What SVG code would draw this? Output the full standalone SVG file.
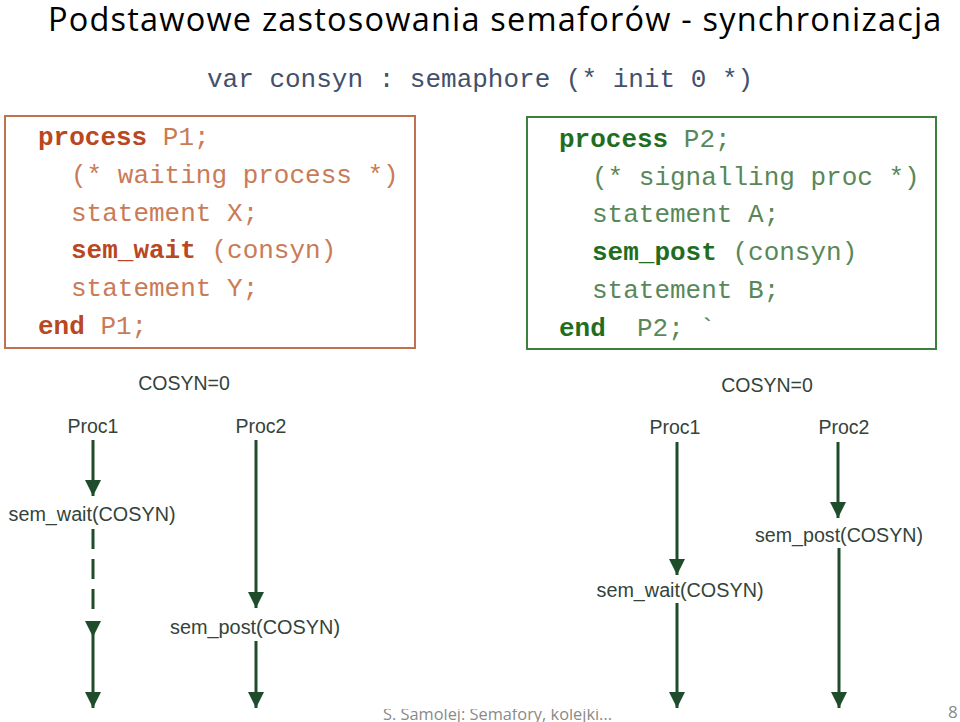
<svg xmlns="http://www.w3.org/2000/svg" width="960" height="722" viewBox="0 0 960 722">
<defs>
<style>
.title{font-family:"Open Sans","Liberation Sans",sans-serif;font-size:32.5px;fill:#000}
.code{font-family:"Liberation Mono","Courier New",monospace;font-size:26px}
.var{fill:#42506b}
.lb{fill:#b9471f;font-weight:bold}
.ln{fill:#c97b57}
.rb{fill:#1f6e1f;font-weight:bold}
.rn{fill:#588858}
.lbl{font-family:"Liberation Sans",Arial,sans-serif;font-size:19.5px;fill:#33443a}
.ar{stroke:#1f4d2b;stroke-width:3;fill:none;marker-end:url(#ah)}
.foot{font-family:"Open Sans","Liberation Sans",sans-serif;font-size:17px;fill:#8a8a8a}
</style>
<marker id="ah" markerUnits="userSpaceOnUse" markerWidth="16" markerHeight="16" refX="16" refY="8" orient="auto">
<path d="M0,0 L16,8 L0,16 z" fill="#1f4d2b"/>
</marker>
<clipPath id="fc"><rect x="0" y="709" width="960" height="13"/></clipPath>
</defs>
<rect width="960" height="722" fill="#fff"/>
<g id="title"><text class="title" x="48" y="31" letter-spacing="1.2">Podstawowe zastosowania semaforów - synchronizacja</text></g>
<g id="decl"><text class="code var" x="207" y="87" xml:space="preserve">var consyn : semaphore (* init 0 *)</text></g>
<g id="p1box">
<rect x="5" y="116" width="410" height="232" fill="none" stroke="#c0714f" stroke-width="2"/>
<text class="code" x="38" y="145" xml:space="preserve"><tspan class="lb">process</tspan><tspan class="ln"> P1;</tspan></text>
<text class="code ln" x="71" y="183" xml:space="preserve">(* waiting process *)</text>
<text class="code ln" x="71" y="221">statement X;</text>
<text class="code" x="71" y="258" xml:space="preserve"><tspan class="lb">sem_wait</tspan><tspan class="ln"> (consyn)</tspan></text>
<text class="code ln" x="71" y="296">statement Y;</text>
<text class="code" x="38" y="334" xml:space="preserve"><tspan class="lb">end</tspan><tspan class="ln"> P1;</tspan></text>
</g>
<g id="p2box">
<rect x="527" y="117" width="409" height="232" fill="none" stroke="#3d7f3d" stroke-width="2"/>
<text class="code" x="559" y="147" xml:space="preserve"><tspan class="rb">process</tspan><tspan class="rn"> P2;</tspan></text>
<text class="code rn" x="592" y="185" xml:space="preserve">(* signalling proc *)</text>
<text class="code rn" x="592" y="222">statement A;</text>
<text class="code" x="592" y="260" xml:space="preserve"><tspan class="rb">sem_post</tspan><tspan class="rn"> (consyn)</tspan></text>
<text class="code rn" x="592" y="298">statement B;</text>
<text class="code" x="559" y="336" xml:space="preserve"><tspan class="rb">end</tspan><tspan class="rn">  P2; `</tspan></text>
</g>
<g id="diagL-labels">
<text class="lbl" x="184" y="390" text-anchor="middle">COSYN=0</text>
<text class="lbl" x="93" y="433" text-anchor="middle">Proc1</text>
<text class="lbl" x="261" y="433" text-anchor="middle">Proc2</text>
<text class="lbl" x="92" y="521" text-anchor="middle" textLength="167" lengthAdjust="spacingAndGlyphs">sem_wait(COSYN)</text>
<text class="lbl" x="255" y="634" text-anchor="middle" textLength="170" lengthAdjust="spacingAndGlyphs">sem_post(COSYN)</text>
</g>
<g id="diagR-labels">
<text class="lbl" x="767" y="392" text-anchor="middle">COSYN=0</text>
<text class="lbl" x="675" y="434" text-anchor="middle">Proc1</text>
<text class="lbl" x="844" y="434" text-anchor="middle">Proc2</text>
<text class="lbl" x="680" y="597" text-anchor="middle" textLength="167" lengthAdjust="spacingAndGlyphs">sem_wait(COSYN)</text>
<text class="lbl" x="839" y="542" text-anchor="middle" textLength="168" lengthAdjust="spacingAndGlyphs">sem_post(COSYN)</text>
</g>
<g id="connectors">
<line class="ar" x1="93" y1="440" x2="93" y2="496"/>
<line x1="93" y1="529" x2="93" y2="609" stroke="#1f4d2b" stroke-width="3" stroke-dasharray="20 10"/>
<line class="ar" x1="93" y1="622" x2="93" y2="637"/>
<line class="ar" x1="93" y1="637" x2="93" y2="708"/>
<line class="ar" x1="256" y1="440" x2="256" y2="608"/>
<line class="ar" x1="256" y1="641" x2="256" y2="708"/>
<line class="ar" x1="677" y1="442" x2="677" y2="575"/>
<line class="ar" x1="677" y1="603" x2="677" y2="708"/>
<line class="ar" x1="838" y1="442" x2="838" y2="518"/>
<line class="ar" x1="839" y1="548" x2="839" y2="708"/>
</g>
<g id="footer">
<text class="foot" x="383" y="720" textLength="229" lengthAdjust="spacingAndGlyphs" clip-path="url(#fc)">S. Samolej: Semafory, kolejki...</text>
<text class="foot" x="948" y="718" font-size="17">8</text>
</g>
</svg>
